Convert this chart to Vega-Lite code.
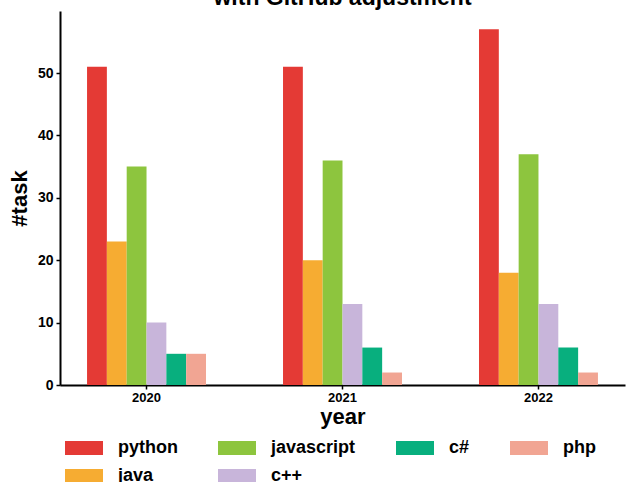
{
  "$schema": "https://vega.github.io/schema/vega-lite/v6.json",
  "width": 565,
  "height": 374,
  "autosize": {"type": "none"},
  "padding": {"left": 60, "top": 11, "right": 3, "bottom": 97},
  "background": "white",
  "title": {
    "text": "with GitHub adjustment",
    "font": "Liberation Sans",
    "fontSize": 23,
    "fontWeight": "bold",
    "color": "black",
    "anchor": "middle",
    "baseline": "alphabetic",
    "offset": -17
  },
  "config": {
    "view": {"stroke": null},
    "font": "Liberation Sans",
    "axis": {
      "grid": false,
      "domainColor": "black",
      "domainWidth": 2,
      "tickColor": "black",
      "tickWidth": 1.5,
      "tickSize": 4,
      "labelFont": "Liberation Sans",
      "labelFontWeight": "bold",
      "labelColor": "black",
      "titleFont": "Liberation Sans",
      "titleFontWeight": "bold",
      "titleColor": "black",
      "titleFontSize": 22
    }
  },
  "data": {
    "values": [
      {"year": "2020", "language": "python", "task": 51},
      {"year": "2020", "language": "java", "task": 23},
      {"year": "2020", "language": "javascript", "task": 35},
      {"year": "2020", "language": "c++", "task": 10},
      {"year": "2020", "language": "c#", "task": 5},
      {"year": "2020", "language": "php", "task": 5},
      {"year": "2021", "language": "python", "task": 51},
      {"year": "2021", "language": "java", "task": 20},
      {"year": "2021", "language": "javascript", "task": 36},
      {"year": "2021", "language": "c++", "task": 13},
      {"year": "2021", "language": "c#", "task": 6},
      {"year": "2021", "language": "php", "task": 2},
      {"year": "2022", "language": "python", "task": 57},
      {"year": "2022", "language": "java", "task": 18},
      {"year": "2022", "language": "javascript", "task": 37},
      {"year": "2022", "language": "c++", "task": 13},
      {"year": "2022", "language": "c#", "task": 6},
      {"year": "2022", "language": "php", "task": 2}
    ]
  },
  "mark": {"type": "bar"},
  "encoding": {
    "x": {
      "field": "year",
      "type": "nominal",
      "scale": {"paddingInner": 0.393, "paddingOuter": 0.138},
      "axis": {
        "labelAngle": 0,
        "labelFontSize": 13,
        "labelPadding": 2,
        "title": "year",
        "titlePadding": 2
      }
    },
    "xOffset": {
      "field": "language",
      "type": "nominal",
      "scale": {"domain": ["python", "java", "javascript", "c++", "c#", "php"]}
    },
    "y": {
      "field": "task",
      "type": "quantitative",
      "scale": {"domain": [0, 59.94], "nice": false},
      "axis": {
        "values": [0, 10, 20, 30, 40, 50],
        "labelFontSize": 14,
        "labelPadding": 3,
        "title": "#task",
        "titlePadding": 6
      }
    },
    "color": {
      "field": "language",
      "type": "nominal",
      "scale": {
        "domain": ["python", "javascript", "c#", "php", "java", "c++"],
        "range": ["#E43A35", "#8DC53E", "#08AF7E", "#F1A593", "#F6AC32", "#C8B5DA"]
      },
      "legend": {
        "orient": "none",
        "legendX": 15,
        "legendY": 428,
        "direction": "horizontal",
        "columns": 4,
        "title": null,
        "symbolType": "M-2.714,-1H2.714V1H-2.714Z",
        "symbolSize": 196,
        "symbolStrokeWidth": 0,
        "symbolOpacity": 1,
        "labelFont": "Liberation Sans",
        "labelFontSize": 18,
        "labelFontWeight": "bold",
        "labelColor": "black",
        "labelOffset": 25,
        "columnPadding": 40,
        "rowPadding": 10,
        "padding": 0
      }
    }
  }
}
